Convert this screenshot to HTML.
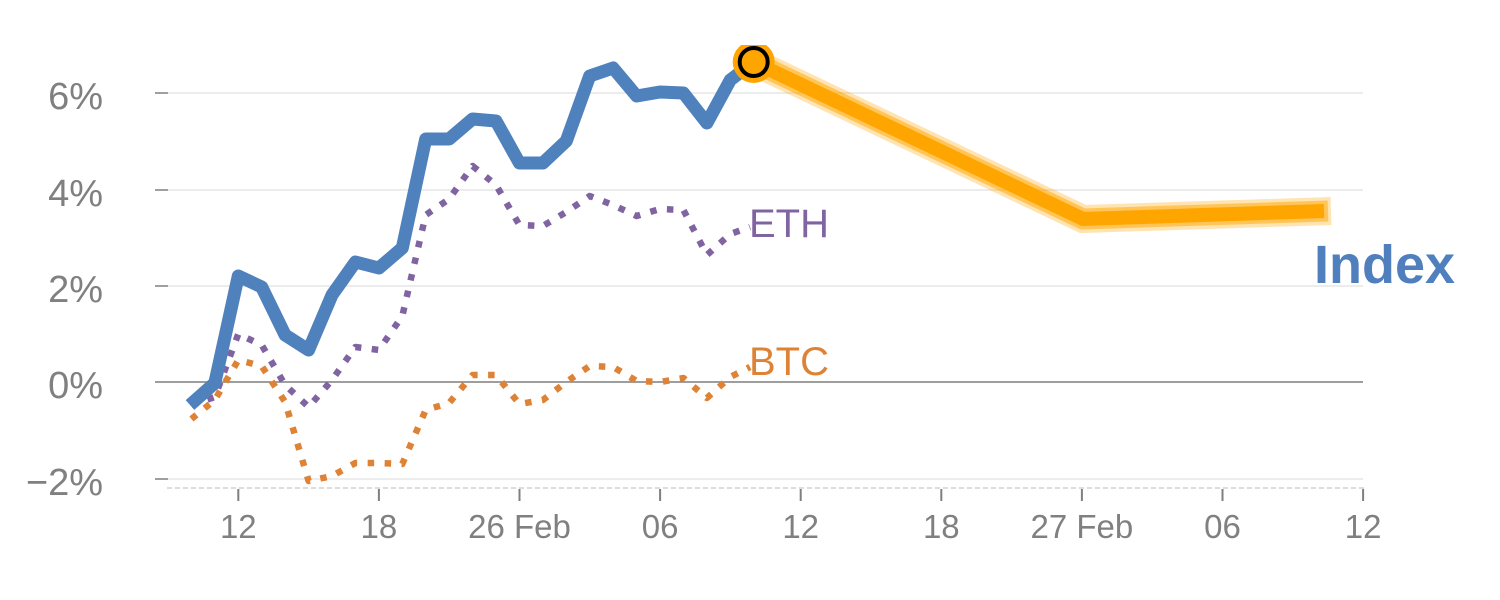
<!DOCTYPE html>
<html><head><meta charset="utf-8"><style>
html,body{margin:0;padding:0;background:#fff;}
svg{display:block;}
text{font-family:"Liberation Sans",Arial,sans-serif;}
</style></head><body>
<svg width="1500" height="600" viewBox="0 0 1500 600" xmlns="http://www.w3.org/2000/svg">
<defs><clipPath id="c"><rect x="150" y="45" width="1300" height="520"/></clipPath></defs>
<g stroke="#e6e6e6" stroke-width="1.5">
<line x1="168" y1="93" x2="1363" y2="93"/>
<line x1="168" y1="190" x2="1363" y2="190"/>
<line x1="168" y1="286" x2="1363" y2="286"/>
<line x1="168" y1="479" x2="1363" y2="479"/>
</g>
<g stroke="#7f7f7f" stroke-width="1.5">
<line x1="155" y1="93" x2="168" y2="93"/>
<line x1="155" y1="190" x2="168" y2="190"/>
<line x1="155" y1="286" x2="168" y2="286"/>
<line x1="155" y1="479" x2="168" y2="479"/>
<line x1="155" y1="382" x2="1363" y2="382"/>
</g>
<line x1="167" y1="488" x2="1366" y2="488" stroke="#dcdcdc" stroke-width="2" stroke-dasharray="5 3"/>
<g stroke="#7f7f7f" stroke-width="2">
<line x1="238.3" y1="489" x2="238.3" y2="501"/>
<line x1="378.9" y1="489" x2="378.9" y2="501"/>
<line x1="519.5" y1="489" x2="519.5" y2="501"/>
<line x1="660.1" y1="489" x2="660.1" y2="501"/>
<line x1="800.7" y1="489" x2="800.7" y2="501"/>
<line x1="941.3" y1="489" x2="941.3" y2="501"/>
<line x1="1081.9" y1="489" x2="1081.9" y2="501"/>
<line x1="1222.5" y1="489" x2="1222.5" y2="501"/>
<line x1="1363.1" y1="489" x2="1363.1" y2="501"/>
</g>
<g fill="#808080" font-size="38" text-anchor="end">
<text x="103" y="109">6%</text>
<text x="103" y="206">4%</text>
<text x="103" y="302">2%</text>
<text x="103" y="398">0%</text>
<text x="103" y="495">−2%</text>
</g>
<g fill="#808080" font-size="33" text-anchor="middle">
<text x="238.3" y="538">12</text>
<text x="378.9" y="538">18</text>
<text x="519.5" y="538">26 Feb</text>
<text x="660.1" y="538">06</text>
<text x="800.7" y="538">12</text>
<text x="941.3" y="538">18</text>
<text x="1081.9" y="538">27 Feb</text>
<text x="1222.5" y="538">06</text>
<text x="1363.1" y="538">12</text>
</g>
<g clip-path="url(#c)" fill="none">
<polyline stroke="#8064a2" stroke-width="6.5" stroke-dasharray="6.5 10.5" stroke-linejoin="round" points="191.4,405 214.8,397 238.3,334 261.7,345 285.1,385 308.6,407 332,380 355.4,347 378.9,350 402.3,316 425.7,215 449.1,199 472.6,166 496,185 519.4,225 542.9,226 566.3,212 589.7,196 613.1,205 636.6,216 660,209 683.4,210 706.9,255 730.3,234 750,227"/>
<polyline stroke="#de8235" stroke-width="6.5" stroke-dasharray="6.5 10.5" stroke-linejoin="round" points="191.4,419 214.8,400 238.3,360 261.7,366 285.1,402 308.6,481 332,476 355.4,463 378.9,463 402.3,464 425.7,410 449.1,403 472.6,375 496,375 519.4,404 542.9,400 566.3,382 589.7,366 613.1,367 636.6,381 660,382 683.4,378 706.9,398 730.3,377 750,367"/>
<polyline stroke="#4f81bd" stroke-width="13" stroke-linejoin="round" points="190,405 214.8,383 238.3,276 261.7,287 285.1,335 308.6,350 332,295 355.4,262 378.9,268 402.3,248 425.7,139 449.1,139 472.6,119 496,121 519.4,163 542.9,163 566.3,141 589.7,76 613.1,68 636.6,96 660,92 683.4,93 706.9,123 730.3,80 753.7,62"/>
<polyline stroke="#ffa500" stroke-opacity="0.3" stroke-width="28" stroke-linejoin="miter" points="753.7,62 1083,219 1331,211"/>
<polyline stroke="#ffa500" stroke-opacity="0.5" stroke-width="21" stroke-linejoin="miter" points="753.7,62 1083,219 1328,211"/>
<polyline stroke="#ffa500" stroke-width="14" stroke-linejoin="miter" points="753.7,62 1083,219 1324,211"/>
<circle cx="753.7" cy="62" r="21" fill="#ffa500"/>
<circle cx="753.7" cy="62" r="14" fill="#ffa500" stroke="#000" stroke-width="4"/>
</g>
<text x="749" y="237" font-size="40" fill="#8064a2">ETH</text>
<text x="749" y="375" font-size="40" fill="#de8235">BTC</text>
<text x="1314" y="283" font-size="54" font-weight="bold" fill="#4f7fbd">Index</text>
</svg>
</body></html>
